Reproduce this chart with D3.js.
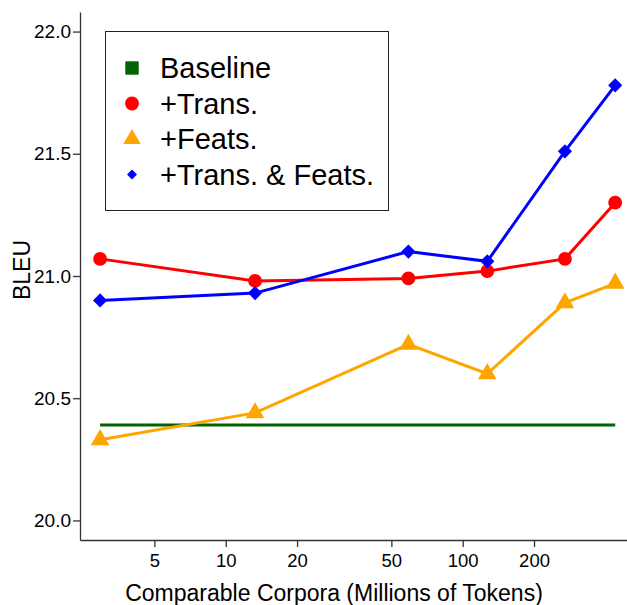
<!DOCTYPE html>
<html><head><meta charset="utf-8">
<script src="https://cdn.jsdelivr.net/npm/d3@7"></script>
<style>body{margin:0;background:#fff}svg{display:block;font-family:"Liberation Sans",Arial,Helvetica,sans-serif}</style>
</head><body><svg id="c" width="627" height="605"></svg>
<script>
const corpusSizes = [2.95, 13.3, 59, 127, 270, 440];
const baseline = [20.39, 20.39, 20.39, 20.39, 20.39, 20.39];
const trans = [21.07, 20.98, 20.99, 21.02, 21.07, 21.30];
const feats = [20.33, 20.44, 20.72, 20.60, 20.89, 20.97];
const transFeats = [20.90, 20.93, 21.10, 21.06, 21.51, 21.78];
const xTicks = [5, 10, 20, 50, 100, 200];
const yTicks = [20.0, 20.5, 21.0, 21.5, 22.0];
const seriesNames = ["Baseline", "+Trans.", "+Feats.", "+Trans. & Feats."];

const svg = d3.select("#c");
const x = d3.scaleLog().domain([2.427, 493.5]).range([80, 627]);
const y = d3.scaleLinear().domain([19.92, 22.08]).range([540, 12]);

// axes
const xAxis = svg.append("g").attr("transform", "translate(0,540)")
  .call(d3.axisBottom(x).tickValues(xTicks).tickFormat(d3.format("d")).tickSize(7).tickSizeOuter(0));
const yAxis = svg.append("g").attr("transform", "translate(80,0)")
  .call(d3.axisLeft(y).tickValues(yTicks).tickFormat(d3.format(".1f")).tickSize(7).tickSizeOuter(0));
[xAxis, yAxis].forEach(a => {
  a.selectAll("path,line").attr("stroke", "#333").attr("stroke-width", 1.3);
  a.selectAll("text").attr("fill", "#000").style("font-size", "19px").style("font-family", "Liberation Sans, Arial, sans-serif");
});
xAxis.selectAll("text").style("font-size", "18.5px").attr("dy", "0.9em");
yAxis.selectAll("text").attr("x", -9);

svg.append("text").attr("x", 334).attr("y", 601).attr("text-anchor", "middle")
  .style("font-size", "23px").text("Comparable Corpora (Millions of Tokens)");
svg.append("text").attr("transform", "translate(29.5,270) rotate(-90)").attr("text-anchor", "middle")
  .style("font-size", "23px").text("BLEU");

const colors = ["#006400", "#ff0000", "#ffa500", "#0000ff"];
const data = [baseline, trans, feats, transFeats];
const line = d3.line().x(d => x(d[0])).y(d => y(d[1]));

// baseline line (no markers)
svg.append("path").datum(corpusSizes.map((c, i) => [c, baseline[i]]))
  .attr("d", line).attr("fill", "none").attr("stroke", colors[0]).attr("stroke-width", 3);

const symTypes = [d3.symbolSquare, d3.symbolCircle, d3.symbolTriangle, d3.symbolSquare];
const symSizes = [180, 150, 150, 100];
const legendSizes = [180, 150, 130, 50];
const rot = k => (k === 3 ? " rotate(45)" : "");

[1, 2, 3].forEach(k => {
  const pts = corpusSizes.map((c, i) => [c, data[k][i]]);
  svg.append("path").datum(pts).attr("d", line).attr("fill", "none")
    .attr("stroke", colors[k]).attr("stroke-width", 3);
  svg.append("g").selectAll("path").data(pts).join("path")
    .attr("transform", d => `translate(${x(d[0])},${y(d[1])})` + rot(k))
    .attr("d", d3.symbol().type(symTypes[k]).size(symSizes[k]))
    .attr("fill", colors[k]);
});

// legend
const lg = svg.append("g");
lg.append("rect").attr("x", 105.5).attr("y", 31.5).attr("width", 283).attr("height", 179)
  .attr("fill", "#fff").attr("stroke", "#222").attr("stroke-width", 1);
seriesNames.forEach((n, i) => {
  const cy = 68 + i * 35.5;
  lg.append("path").attr("transform", `translate(132,${cy})` + rot(i))
    .attr("d", d3.symbol().type(symTypes[i]).size(legendSizes[i])).attr("fill", colors[i]);
  lg.append("text").attr("x", 160).attr("y", cy).attr("dy", "0.36em")
    .style("font-size", "29px").text(n);
});
</script></body></html>
